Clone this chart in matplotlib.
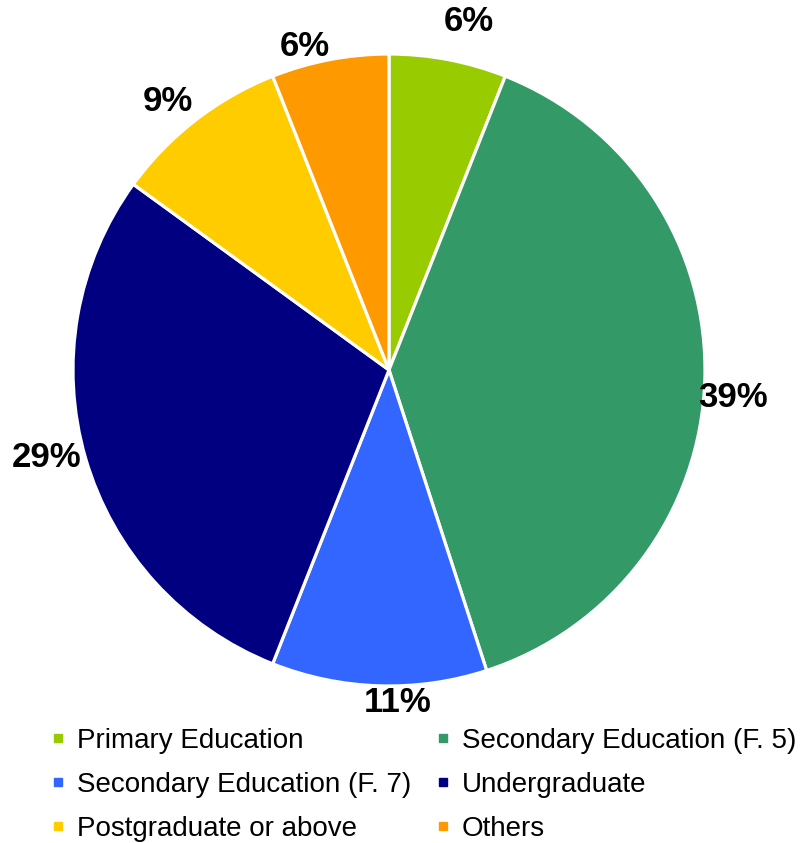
import matplotlib
matplotlib.use("Agg")
import matplotlib.pyplot as plt
from matplotlib.lines import Line2D
import numpy as np

plt.rcParams['font.family'] = ['Liberation Sans', 'DejaVu Sans']

categories = [
    "Primary Education",
    "Secondary Education (F. 5)",
    "Secondary Education (F. 7)",
    "Undergraduate",
    "Postgraduate or above",
    "Others",
]
shares = [6, 39, 11, 29, 9, 6]
colors = ["#99CC00", "#339966", "#3366FF", "#000080", "#FFCC00", "#FF9900"]

# placement of each percentage label: distance (pie radii) and
# clockwise nudge (degrees) from the wedge's middle angle
label_dist = [1.132, 1.092, 1.053, 1.117, 1.102, 1.057]
label_nudge = [2.1, 2.7, -3.3, 1.9, -1.7, -3.8]

W, H = 803, 843
fig = plt.figure(figsize=(W / 100, H / 100), dpi=100)

cx, cy, r = 389, 370, 316
ax = fig.add_axes([(cx - r) / W, (H - cy - r) / H, 2 * r / W, 2 * r / H])

wedges, _ = ax.pie(
    shares,
    colors=colors,
    startangle=90,
    counterclock=False,
    radius=1.0,
    wedgeprops=dict(edgecolor="white", linewidth=2.3),
)
ax.set_xlim(-1, 1)
ax.set_ylim(-1, 1)
ax.set_aspect("equal")
ax.axis("off")

for w, val, d, nudge in zip(wedges, shares, label_dist, label_nudge):
    ang = np.deg2rad((w.theta1 + w.theta2) / 2 - nudge)
    ax.text(d * np.cos(ang), d * np.sin(ang), f"{val}%",
            ha="center", va="center", fontsize=25, fontweight="bold",
            color="black")

# legend laid out row by row (matplotlib fills columns first)
order = [0, 2, 4, 1, 3, 5]
handles = [Line2D([], [], marker="s", linestyle="none", markersize=6,
                  markerfacecolor=colors[i], markeredgecolor=colors[i])
           for i in order]
labels = [categories[i] for i in order]
fig.legend(handles, labels, ncol=2, frameon=False,
           loc="upper left", bbox_to_anchor=(50 / W, 1 - 728 / H),
           fontsize=20, handlelength=0.6, handletextpad=0.37,
           labelspacing=0.64, columnspacing=0.85, borderpad=0,
           borderaxespad=0)

fig.savefig("out.png", dpi=100)
